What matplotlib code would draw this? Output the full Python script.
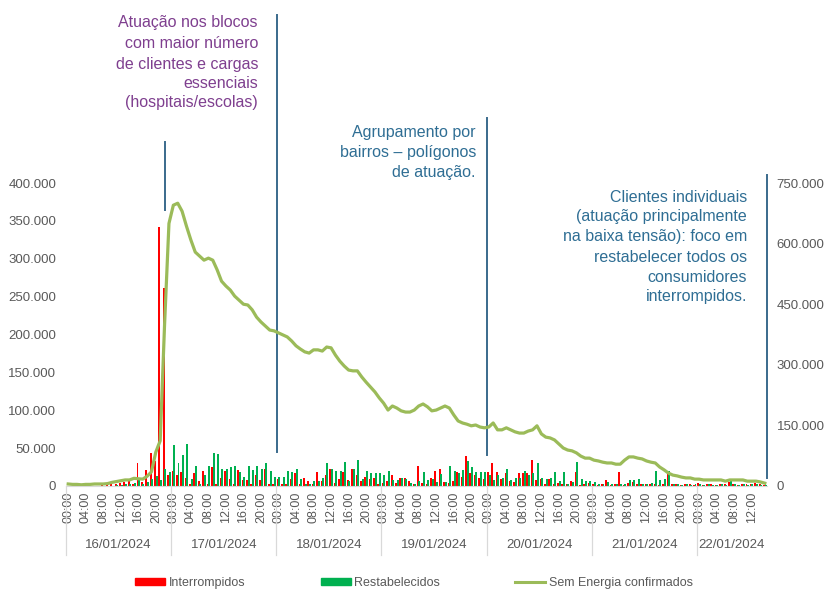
import matplotlib
matplotlib.use("Agg")
import matplotlib.pyplot as plt
from matplotlib.ticker import FuncFormatter
from matplotlib.patches import Patch
from matplotlib.lines import Line2D

plt.rcParams['font.family'] = ['Liberation Sans', 'DejaVu Sans']

# ---------------- data (thousands) ----------------
days = ["16/01/2024", "17/01/2024", "18/01/2024", "19/01/2024",
        "20/01/2024", "21/01/2024", "22/01/2024"]
n_hours = 160  # hourly categories from 16/01 00:00 to 22/01 15:00

interrompidos = [
    0.5, 0.3, 0.5, 0.3, 0.2, 0.3, 0.5, 0.5, 0.8, 1,
    2, 3, 4, 5, 9, 3, 31, 5, 21, 44,
    33, 342, 262, 15, 20, 15, 19, 10, 2, 17,
    6, 20, 2, 25, 2, 11, 20, 9, 2, 21,
    8, 8, 2, 15, 8, 23, 2, 2, 9, 2,
    3, 9, 17, 2, 11, 6, 3, 18, 7, 15,
    22, 4, 9, 18, 8, 23, 15, 7, 12, 9,
    10, 3, 4, 6, 15, 4, 10, 10, 6, 2,
    26, 4, 3, 10, 20, 23, 5, 4, 6, 18,
    12, 40, 17, 15, 10, 9, 18, 30, 18, 9,
    17, 6, 5, 17, 17, 17, 34, 8, 9, 3,
    9, 3, 4, 2, 2, 7, 19, 1, 2, 4,
    3, 1, 2, 8, 1, 2, 19, 1, 4, 5,
    3, 2, 3, 2, 2, 1, 2, 20, 3, 2,
    1, 2, 2, 1, 4, 1, 2, 2, 1, 2,
    2, 5, 2, 1, 2, 2, 2, 4, 2, 1]

restabelecidos = [
    0.3, 0.3, 0.3, 0.3, 0.3, 0.3, 0.3, 0.3, 0.3, 0.5,
    0.5, 0.8, 1, 2, 3, 4, 9, 3, 5, 9,
    13, 8, 23, 19, 54, 30, 41, 55, 9, 26,
    3, 15, 26, 43, 42, 23, 23, 25, 26, 19,
    12, 26, 21, 26, 23, 31, 20, 12, 12, 12,
    20, 18, 23, 9, 3, 3, 6, 7, 10, 31,
    23, 20, 20, 32, 7, 23, 34, 9, 20, 17,
    17, 17, 15, 20, 8, 8, 10, 9, 4, 2,
    6, 18, 8, 9, 5, 16, 5, 26, 20, 17,
    21, 33, 25, 18, 18, 19, 14, 8, 15, 10,
    23, 8, 11, 10, 20, 14, 17, 30, 11, 9,
    10, 19, 6, 19, 2, 5, 32, 9, 6, 7,
    5, 3, 3, 5, 2, 2, 2, 2, 8, 8,
    9, 2, 2, 4, 20, 8, 9, 20, 2, 2,
    1, 2, 1, 2, 2, 1, 2, 1, 1, 2,
    1, 9, 2, 1, 2, 1, 2, 2, 1, 1]

sem_energia = [
    5, 4, 4, 3, 4, 4, 5, 5, 5, 6,
    9, 11, 13, 15, 15, 19, 18, 17, 24, 35,
    84, 112, 400, 650, 695, 700, 680, 643, 609, 579,
    569, 559, 564, 559, 535, 507, 495, 485, 470, 460,
    450, 448, 436, 418, 406, 396, 386, 384, 379, 374,
    369, 359, 347, 339, 332, 329, 337, 337, 334, 344,
    342, 324, 309, 297, 287, 285, 285, 270, 257, 245,
    233, 218, 205, 188, 198, 193, 186, 183, 183, 188,
    198, 203, 196, 186, 188, 193, 198, 193, 176, 161,
    156, 153, 149, 151, 146, 144, 146, 156, 139, 139,
    144, 139, 134, 131, 131, 136, 139, 149, 129, 121,
    119, 114, 104, 94, 89, 87, 82, 74, 69, 69,
    64, 62, 59, 57, 57, 54, 54, 64, 72, 72,
    69, 67, 62, 59, 57, 47, 40, 32, 27, 25,
    22, 20, 20, 17, 17, 15, 15, 15, 15, 15,
    12, 15, 15, 15, 15, 12, 12, 12, 10, 7]

legend_labels = ["Interrompidos", "Restabelecidos", "Sem Energia confirmados"]

# ---------------- styles ----------------
RED = "#FF0000"
GREEN = "#00B050"
OLIVE = "#9BBB59"
GRAY = "#595959"
SEP = "#D9D9D9"
PURPLE = "#7F3F8F"
TEAL = "#2F6E94"
VLINE = "#3A6A8C"

W, H = 827, 592
fig = plt.figure(figsize=(W / 100, H / 100), dpi=100)
ax = fig.add_axes([66 / W, 106 / H, 701 / W, 303 / H])
ax2 = ax.twinx()

hours = list(range(n_hours))
red_v = [v * 1000 for v in interrompidos]
grn_v = [v * 1000 for v in restabelecidos]
line_v = [v * 1000 for v in sem_energia]

bw = 0.45
ax.bar([h - 0.18 for h in hours], red_v, width=bw, color=RED, linewidth=0, zorder=2)
ax.bar([h + 0.18 for h in hours], grn_v, width=bw, color=GREEN, linewidth=0, zorder=2)
ax2.plot(hours, line_v, color=OLIVE, lw=2.3, solid_joinstyle='round', zorder=3)

ax.set_xlim(-0.5, n_hours - 0.5)
ax.set_ylim(0, 400000)
ax2.set_ylim(0, 750000)
ax.set_yticks(range(0, 400001, 50000))
ax2.set_yticks(range(0, 750001, 150000))
fmt = FuncFormatter(lambda v, p: f"{int(v):,}".replace(",", "."))
ax.yaxis.set_major_formatter(fmt)
ax2.yaxis.set_major_formatter(fmt)

for a in (ax, ax2):
    for s in a.spines.values():
        s.set_visible(False)
    a.tick_params(axis='y', length=0, labelsize=9.5, labelcolor=GRAY, pad=7)
ax.spines['bottom'].set_visible(True)
ax.spines['bottom'].set_color(SEP)
ax.spines['bottom'].set_linewidth(0.8)

# hour tick labels
xt = list(range(0, n_hours, 4))
ax.set_xticks(xt)
ax.set_xticklabels([f"{h % 24:02d}:00" for h in xt], rotation=90)
ax.tick_params(axis='x', length=0, labelsize=9, labelcolor=GRAY, pad=4)

# day labels and separators
xtr = ax.get_xaxis_transform()
for i, d in enumerate(days):
    start = 24 * i - 0.5
    end = min(24 * (i + 1), n_hours) - 0.5
    ax.text((start + end) / 2, -59 / 303, d, transform=xtr, ha='center', va='center',
            fontsize=9.5, color=GRAY)
    ax.plot([start, start], [0, -69 / 303], transform=xtr, color=SEP, lw=0.9, clip_on=False)

# annotation lines (y in left-axis units)
def vline(x, y0, y1):
    ax.plot([x, x], [y0, y1], color=VLINE, lw=1.4, clip_on=False, zorder=4)

vline(22.1, 364000, 454000)
vline(47.7, 45000, 622000)
vline(95.6, 41000, 486000)
vline(159.5, 10500, 410000)

def lines_text(xr, ys, lines, color):
    for y, t in zip(ys, lines):
        fig.text(xr / W, 1 - y / H, t, ha='right', va='center', fontsize=11.5, color=color)

lines_text(258, [22, 44, 64, 84, 103],
           ["Atuação nos blocos", "com maior número", "de clientes e cargas",
            "essenciais", "(hospitais/escolas)"], PURPLE)
lines_text(476, [132, 152, 172],
           ["Agrupamento por", "bairros – polígonos", "de atuação."], TEAL)
lines_text(747, [197, 217, 237, 257, 277, 296],
           ["Clientes individuais", "(atuação principalmente", "na baixa tensão): foco em",
            "restabelecer todos os", "consumidores", "interrompidos."], TEAL)

handles = [Patch(color=RED), Patch(color=GREEN), Line2D([], [], color=OLIVE, lw=2.2)]
fig.legend(handles, legend_labels, loc='center', bbox_to_anchor=(414 / W, 1 - 583 / H),
           ncol=3, frameon=False, fontsize=9, labelcolor=GRAY, handlelength=2.4,
           handleheight=0.5, handletextpad=0.3, columnspacing=6.0, borderpad=0.2)

fig.savefig("out.png", dpi=100)
